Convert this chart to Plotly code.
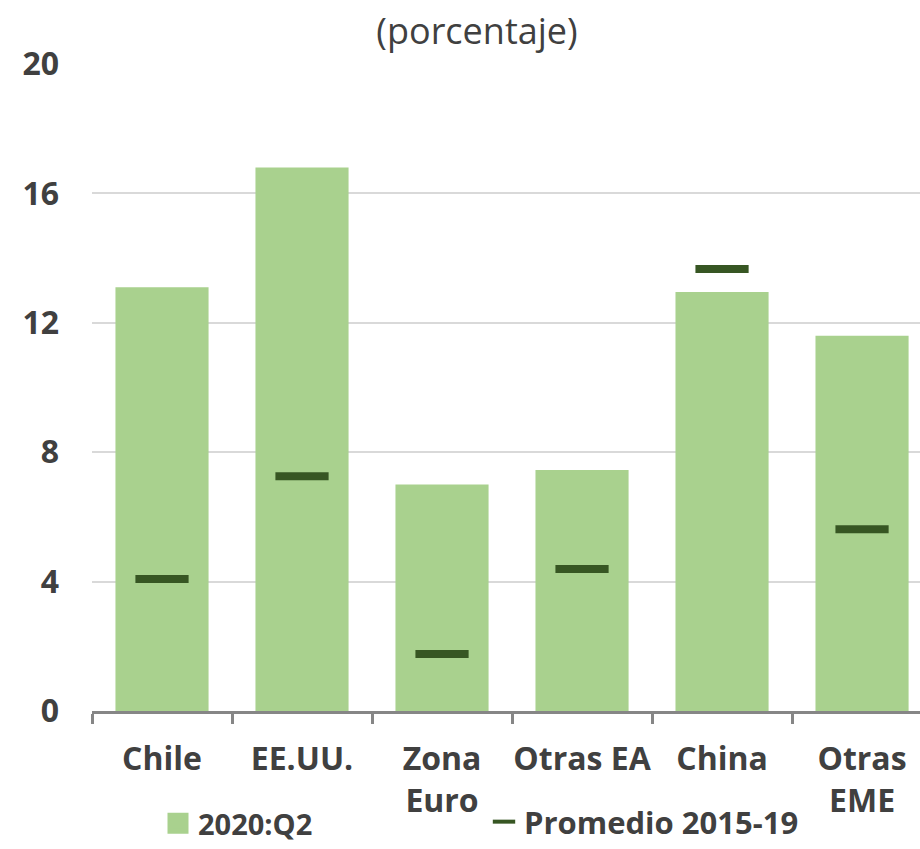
import plotly.graph_objects as go

# Categories and series
categorias = ["Chile", "EE.UU.", "Zona<br>Euro", "Otras EA", "China", "Otras<br>EME"]
valores_2020q2 = [13.1, 16.8, 7.0, 7.45, 12.95, 11.6]
promedio_2015_19 = [4.08, 7.26, 1.76, 4.39, 13.66, 5.62]
y_ticks = [0, 4, 8, 12, 16, 20]

VERDE_CLARO = "#A9D18E"
VERDE_OSCURO = "#375623"
GRIS_TEXTO = "#404040"
GRIS_EJE = "#868686"
FUENTE = "Open Sans"

W, H = 920, 849

fig = go.Figure()

# Bars for 2020:Q2
fig.add_trace(go.Bar(
    x=categorias, y=valores_2020q2,
    marker=dict(color=VERDE_CLARO, line=dict(width=0)),
    showlegend=False, hoverinfo="x+y",
))

# Dashes for the 2015-19 average
fig.add_trace(go.Scatter(
    x=categorias, y=promedio_2015_19, mode="markers",
    marker=dict(symbol="line-ew", size=38,
                line=dict(color=VERDE_OSCURO, width=8)),
    showlegend=False, hoverinfo="x+y",
))

# Legend entries
fig.add_trace(go.Scatter(
    x=[None], y=[None], mode="markers", name="2020:Q2",
    marker=dict(symbol="square", size=16, color=VERDE_CLARO,
                line=dict(color=VERDE_CLARO, width=5)),
    legend="legend",
))
fig.add_trace(go.Scatter(
    x=[None], y=[None], mode="markers", name="Promedio 2015-19",
    marker=dict(symbol="line-ew", size=16,
                line=dict(color=VERDE_OSCURO, width=4)),
    legend="legend2",
))

leg_font = dict(family=FUENTE, size=29, color=GRIS_TEXTO, weight=700)
leg_font2 = dict(family=FUENTE, size=31, color=GRIS_TEXTO, weight=700)

fig.update_layout(
    width=W, height=H,
    margin=dict(l=92, r=0, t=64, b=138, autoexpand=False),
    paper_bgcolor="white", plot_bgcolor="white",
    bargap=0.335,
    title=dict(
        text="(porcentaje)",
        font=dict(family=FUENTE, size=36, color=GRIS_TEXTO),
        xref="container", yref="container",
        x=477 / W, y=1 - 31 / H, xanchor="center", yanchor="middle",
    ),
    xaxis=dict(
        type="category",
        range=[-0.5, 5.414],
        automargin=False,
        tickangle=0,
        showline=True, linecolor=GRIS_EJE, linewidth=3,
        ticks="outside", ticklen=10, tickwidth=3, tickcolor=GRIS_EJE,
        tickson="boundaries",
        showgrid=False,
        tickfont=dict(family=FUENTE, size=32, color=GRIS_TEXTO, weight=700),
        ticklabelstandoff=18,
    ),
    yaxis=dict(
        range=[0, 20],
        automargin=False,
        tickvals=y_ticks,
        ticktext=[str(v) for v in y_ticks],
        showgrid=True, gridcolor="#D9D9D9", gridwidth=2,
        zeroline=False, showline=False, ticks="",
        tickfont=dict(family=FUENTE, size=32, color=GRIS_TEXTO, weight=700),
        ticklabelstandoff=32,
    ),
    legend=dict(
        xref="container", yref="container",
        x=158 / W, y=0, xanchor="left", yanchor="bottom",
        orientation="h", font=leg_font, bgcolor="rgba(0,0,0,0)",
    ),
    legend2=dict(
        xref="container", yref="container",
        x=484 / W, y=0, xanchor="left", yanchor="bottom",
        orientation="h", font=leg_font2, bgcolor="rgba(0,0,0,0)",
    ),
)

fig.write_html("out.html")
